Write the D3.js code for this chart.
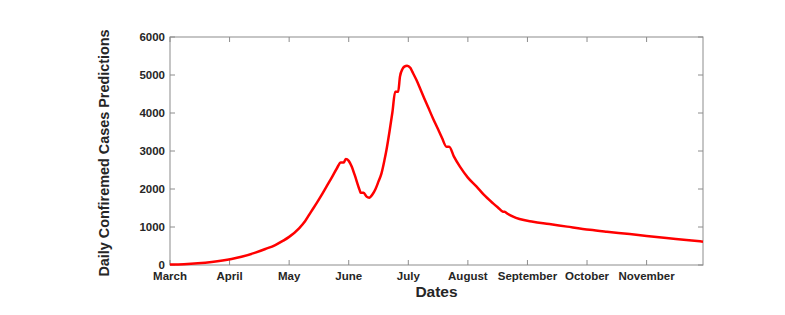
<!DOCTYPE html>
<html>
<head>
<meta charset="utf-8">
<script src="https://cdn.jsdelivr.net/npm/d3@7"></script>
<style>
  body { margin: 0; background: #fff; }
  text { font-family: "Liberation Sans", Arial, sans-serif; font-weight: bold; fill: #262626; }
</style>
</head>
<body>
<div id="chart"></div>
<script>
// days since 1 March, and predicted daily confirmed cases
const days = [0, 7, 14, 21, 31, 36, 43, 48, 53, 57, 60, 65, 68, 71, 74, 76, 79, 81, 84, 86, 87.5, 88.5, 90, 91.5, 93, 95.5, 96, 97.5, 99, 100.3, 102, 103.5, 105, 106.5, 108, 109, 110.5, 112, 113.4, 114.9, 115.8, 117, 118, 119.4, 121, 122, 124, 126, 128, 130, 132.5, 135, 137, 139.2, 140.6, 143, 146, 150, 154.4, 158, 162.7, 165, 167.7, 168.5, 170, 172.8, 176, 182.8, 191, 200, 211.4, 220, 231.5, 240, 250, 260, 268.4];
const cases = [10, 22, 45, 80, 158, 215, 324, 420, 526, 640, 740, 965, 1150, 1400, 1640, 1810, 2080, 2260, 2540, 2700, 2700, 2790, 2740, 2590, 2370, 1970, 1900, 1900, 1800, 1771, 1860, 2000, 2200, 2413, 2760, 3026, 3500, 4020, 4561, 4561, 4956, 5150, 5220, 5245, 5190, 5088, 4880, 4640, 4390, 4150, 3850, 3570, 3340, 3114, 3114, 2850, 2587, 2300, 2061, 1850, 1623, 1520, 1403, 1400, 1350, 1272, 1210, 1140, 1080, 1010, 925, 875, 815, 765, 710, 660, 614];

const monthTicks = [0, 30, 60, 90, 120, 150, 180, 210, 240];
const monthLabels = ["March", "April", "May", "June", "July", "August", "September", "October", "November"];
const yTicks = [0, 1000, 2000, 3000, 4000, 5000, 6000];

const W = 785, H = 315;
const margin = { top: 37, right: 82, bottom: 50, left: 170 };

const svg = d3.select("#chart").append("svg").attr("width", W).attr("height", H);

const x = d3.scaleLinear().domain([0, 268.4]).range([margin.left, W - margin.right]);
const y = d3.scaleLinear().domain([0, 6000]).range([H - margin.bottom, margin.top]);

const axisColor = "#8c8c8c";

// box with inward ticks on all sides
svg.append("rect")
  .attr("x", x(0)).attr("y", y(6000))
  .attr("width", x(268.4) - x(0)).attr("height", y(0) - y(6000))
  .attr("fill", "none").attr("stroke", axisColor).attr("stroke-width", 1);

const tl = 5;
monthTicks.forEach(t => {
  svg.append("line").attr("x1", x(t)).attr("x2", x(t)).attr("y1", y(0)).attr("y2", y(0) - tl).attr("stroke", axisColor);
  svg.append("line").attr("x1", x(t)).attr("x2", x(t)).attr("y1", y(6000)).attr("y2", y(6000) + tl).attr("stroke", axisColor);
});
yTicks.forEach(t => {
  svg.append("line").attr("x1", x(0)).attr("x2", x(0) + tl).attr("y1", y(t)).attr("y2", y(t)).attr("stroke", axisColor);
  svg.append("line").attr("x1", x(268.4)).attr("x2", x(268.4) - tl).attr("y1", y(t)).attr("y2", y(t)).attr("stroke", axisColor);
});

// tick labels
svg.selectAll(".xl").data(monthTicks).enter().append("text")
  .attr("x", d => x(d)).attr("y", y(0) + 15)
  .attr("text-anchor", "middle").style("font-size", "11.5px")
  .text((d, i) => monthLabels[i]);

svg.selectAll(".yl").data(yTicks).enter().append("text")
  .attr("x", x(0) - 5).attr("y", d => y(d) + 3.5)
  .attr("text-anchor", "end").style("font-size", "11.5px")
  .text(d => d);

// axis titles
svg.append("text")
  .attr("x", (x(0) + x(268.4)) / 2).attr("y", 297)
  .attr("text-anchor", "middle").style("font-size", "15.5px")
  .text("Dates");

svg.append("text")
  .attr("transform", "translate(109," + (y(3000) + 2) + ") rotate(-90)")
  .attr("text-anchor", "middle").style("font-size", "14.4px")
  .text("Daily Confiremed Cases Predictions");

// curve
const pts = days.map((d, i) => [d, cases[i]]);
const line = d3.line().x(d => x(d[0])).y(d => y(d[1])).curve(d3.curveMonotoneX);
svg.append("path")
  .datum(pts)
  .attr("d", line)
  .attr("fill", "none")
  .attr("stroke", "#ff0000")
  .attr("stroke-width", 2.5)
  .attr("stroke-linejoin", "round");
</script>
</body>
</html>
